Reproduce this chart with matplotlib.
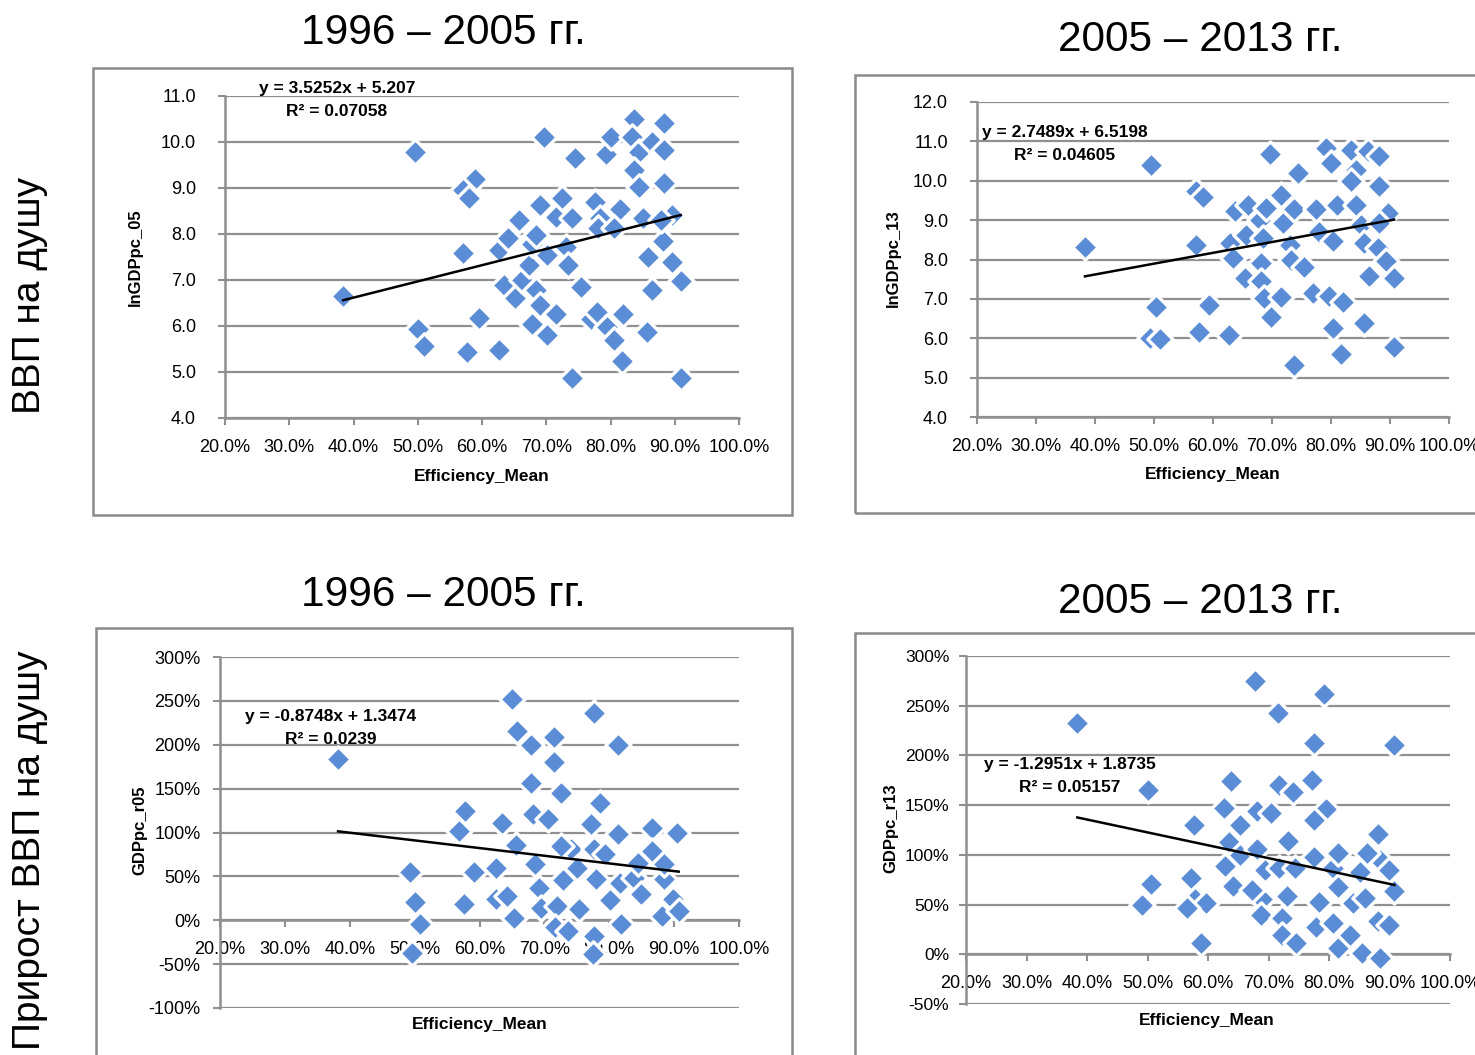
# -*- coding: utf-8 -*-
import numpy as np
import matplotlib
matplotlib.use("Agg")
import matplotlib.pyplot as plt
from matplotlib.patches import Rectangle
from matplotlib.ticker import FuncFormatter

W, H = 1475, 1055

# ---------------- data ----------------
# 1996-2005, lnGDPpc_05
eff_05 = [0.384, 0.495, 0.589, 0.570, 0.579, 0.570, 0.500, 0.510, 0.576, 0.595,
          0.627, 0.634, 0.626, 0.640, 0.658, 0.651, 0.662, 0.673, 0.678, 0.684,
          0.691, 0.684, 0.690, 0.678, 0.701, 0.715, 0.696, 0.701, 0.715, 0.724,
          0.731, 0.734, 0.740, 0.745, 0.754, 0.740, 0.770, 0.776, 0.784, 0.781,
          0.779, 0.795, 0.806, 0.818, 0.820, 0.793, 0.801, 0.815, 0.806, 0.836,
          0.834, 0.844, 0.836, 0.844, 0.851, 0.859, 0.865, 0.857, 0.865, 0.884,
          0.884, 0.884, 0.882, 0.895, 0.879, 0.895, 0.909, 0.909]
lngdp_05 = [6.65, 9.79, 9.19, 8.95, 8.79, 7.58, 5.94, 5.57, 5.44, 6.18,
            5.47, 6.89, 7.65, 7.92, 8.30, 6.60, 7.00, 7.32, 7.79, 7.97,
            8.64, 6.78, 6.45, 6.05, 5.80, 6.27, 10.11, 7.54, 8.37, 8.79,
            7.72, 7.32, 8.34, 9.66, 6.85, 4.86, 6.16, 8.70, 8.34, 8.12,
            6.31, 5.98, 5.69, 5.25, 6.27, 9.75, 10.11, 8.55, 8.12, 10.51,
            10.11, 9.79, 9.39, 9.03, 8.34, 7.50, 6.78, 5.87, 10.00, 10.41,
            9.82, 9.11, 7.84, 8.41, 8.30, 7.39, 6.97, 4.86]

# 2005-2013, lnGDPpc_13
eff_13 = [0.383, 0.495, 0.572, 0.583, 0.571, 0.503, 0.493, 0.510, 0.576, 0.594,
          0.627, 0.628, 0.634, 0.638, 0.659, 0.656, 0.654, 0.679, 0.682, 0.682,
          0.687, 0.699, 0.690, 0.685, 0.696, 0.716, 0.718, 0.716, 0.730, 0.738,
          0.732, 0.744, 0.755, 0.738, 0.769, 0.775, 0.780, 0.797, 0.803, 0.817,
          0.820, 0.792, 0.800, 0.803, 0.811, 0.834, 0.842, 0.834, 0.842, 0.851,
          0.856, 0.865, 0.856, 0.862, 0.882, 0.882, 0.879, 0.893, 0.896, 0.882,
          0.907, 0.907]
lngdp_13 = [8.33, 10.39, 9.73, 9.60, 8.37, 6.79, 6.01, 5.98, 6.15, 6.85,
            6.08, 8.42, 8.03, 9.24, 9.39, 8.63, 7.54, 9.01, 7.91, 7.46,
            7.01, 6.55, 9.31, 8.54, 10.67, 9.65, 8.93, 7.06, 8.37, 9.27,
            7.99, 10.20, 7.82, 5.32, 7.14, 9.27, 8.71, 7.08, 6.25, 5.61,
            6.93, 10.84, 10.45, 8.46, 9.38, 10.79, 10.28, 9.99, 9.38, 8.88,
            8.42, 7.57, 6.39, 10.75, 10.62, 9.86, 8.29, 7.95, 9.18, 8.93,
            7.52, 5.78]

# 1996-2005, GDPpc_r05
eff_r05 = [0.382, 0.493, 0.501, 0.508, 0.496, 0.578, 0.569, 0.576, 0.592, 0.625,
           0.634, 0.625, 0.643, 0.656, 0.653, 0.650, 0.658, 0.680, 0.715, 0.715,
           0.680, 0.725, 0.682, 0.706, 0.686, 0.692, 0.695, 0.719, 0.716, 0.736,
           0.728, 0.741, 0.725, 0.750, 0.753, 0.777, 0.785, 0.772, 0.777, 0.780,
           0.777, 0.775, 0.794, 0.801, 0.814, 0.814, 0.816, 0.818, 0.838, 0.844,
           0.849, 0.866, 0.866, 0.885, 0.882, 0.904, 0.899, 0.907, 0.885]
gdp_r05 = [1.834, 0.554, 0.213, -0.046, -0.368, 1.245, 1.017, 0.182, 0.554, 0.600,
           1.112, 0.239, 0.277, 0.858, 0.030, 2.525, 2.160, 2.000, 2.090, 1.800,
           1.568, 1.454, 1.215, 1.150, 0.645, 0.372, 0.144, 0.163, -0.076, -0.120,
           0.456, 0.809, 0.847, 0.600, 0.125, 2.365, 1.340, 1.093, 0.809, 0.467,
           -0.178, -0.387, 0.752, 0.228, 1.997, 0.987, 0.429, -0.046, 0.486, 0.657,
           0.296, 1.055, 0.790, 0.467, 0.050, 0.998, 0.239, 0.106, 0.638]

# 2005-2013, GDPpc_r13
eff_r13 = [0.384, 0.500, 0.506, 0.491, 0.577, 0.572, 0.578, 0.597, 0.566, 0.589,
           0.638, 0.627, 0.634, 0.628, 0.653, 0.653, 0.642, 0.677, 0.681, 0.704,
           0.681, 0.695, 0.690, 0.673, 0.687, 0.716, 0.718, 0.740, 0.732, 0.718,
           0.743, 0.730, 0.723, 0.723, 0.746, 0.792, 0.775, 0.772, 0.795, 0.776,
           0.776, 0.784, 0.779, 0.807, 0.815, 0.815, 0.807, 0.815, 0.835, 0.840,
           0.852, 0.855, 0.860, 0.881, 0.884, 0.899, 0.881, 0.899, 0.884, 0.908,
           0.908, 0.863]
gdp_r13 = [2.327, 1.657, 0.703, 0.495, 1.300, 0.770, 0.556, 0.512, 0.462, 0.110,
           1.741, 1.476, 1.132, 0.890, 1.300, 0.998, 0.690, 2.745, 1.440, 1.416,
           1.058, 0.847, 0.556, 0.646, 0.395, 2.430, 1.700, 1.634, 1.138, 0.864,
           0.864, 0.589, 0.362, 0.194, 0.110, 2.621, 2.129, 1.751, 1.466, 1.349,
           0.981, 0.529, 0.278, 0.864, 1.014, 0.680, 0.311, 0.060, 0.194, 0.512,
           0.830, 0.010, 0.562, 1.205, 0.947, 0.847, 0.335, 0.295, -0.033, 2.109,
           0.636, 1.014]

titles = ["1996 – 2005 гг.", "2005 – 2013 гг.", "1996 – 2005 гг.", "2005 – 2013 гг."]
ylabels = ["lnGDPpc_05", "lnGDPpc_13", "GDPpc_r05", "GDPpc_r13"]
row_labels = ["ВВП на душу", "Прирост ВВП на душу"]
slopes = [3.5252, 2.7489, -0.8748, -1.2951]
intercepts = [5.207, 6.5198, 1.3474, 1.8735]
eq_text = ["y = 3.5252x + 5.207", "y = 2.7489x + 6.5198",
           "y = -0.8748x + 1.3474", "y = -1.2951x + 1.8735"]
r2_text = ["R² = 0.07058", "R² = 0.04605", "R² = 0.0239", "R² = 0.05157"]
x_ticks = [0.2, 0.3, 0.4, 0.5, 0.6, 0.7, 0.8, 0.9, 1.0]
y_ticks = [np.arange(4, 11.01, 1.0), np.arange(4, 12.01, 1.0),
           np.arange(-1.0, 3.01, 0.5), np.arange(-0.5, 3.01, 0.5)]

# ---------------- layout (pixels) ----------------
# left, right, top, bottom of plotting area
boxes = [(225, 739, 96, 418), (977, 1449, 102, 417),
         (220, 739, 657, 1008), (966, 1450, 656, 1004)]
frames = [(93, 792, 68, 515), (855, 1490, 75, 513),
          (96, 792, 628, 1070), (855, 1490, 633, 1070)]
title_pos = [(443, 33), (1200, 40), (443, 595), (1200, 602)]
xlab_pos = [(482, 476), (1213, 474), (480, 1024), (1207, 1020)]
ylab_pos = [(135, 257), (893, 258), (140, 830), (891, 828)]
eq_pos = [(337, 89), (1065, 133), (331, 716), (1070, 764)]
ypads = [16, 16, 9, 7]
ysizes = [13, 13, 13, 12.5]

grid_c = "#8F8F8F"
blue = "#5B8DD6"
tick_font = ["Liberation Sans", "DejaVu Sans"]

plt.rcParams["font.family"] = ["Liberation Sans", "DejaVu Sans"]

fig = plt.figure(figsize=(W / 100, H / 100), dpi=100)


def fx(px):
    return px / W


def fy(py):
    return 1 - py / H


data = [(eff_05, lngdp_05), (eff_13, lngdp_13), (eff_r05, gdp_r05), (eff_r13, gdp_r13)]

for i in range(4):
    fl, fr, ft, fb = frames[i]
    fig.patches.append(Rectangle((fx(fl), fy(fb)), fx(fr - fl), (fb - ft) / H,
                                 transform=fig.transFigure, fill=False,
                                 edgecolor="#8A8A8A", linewidth=1.8, zorder=0))

    l, r, t, b = boxes[i]
    ax = fig.add_axes([fx(l), fy(b), fx(r - l), (b - t) / H])
    ax.set_xlim(0.2, 1.0)
    yt = y_ticks[i]
    ax.set_ylim(yt[0], yt[-1])
    ax.set_xticks(x_ticks)
    ax.set_yticks(yt)
    ax.xaxis.set_major_formatter(FuncFormatter(lambda v, p: "%.1f%%" % (v * 100)))
    if i < 2:
        ax.yaxis.set_major_formatter(FuncFormatter(lambda v, p: "%.1f" % v))
    else:
        ax.yaxis.set_major_formatter(FuncFormatter(lambda v, p: "%d%%" % round(v * 100)))
        ax.spines["bottom"].set_position(("data", 0))

    for s in ["top", "right"]:
        ax.spines[s].set_visible(False)
    for s in ["left", "bottom"]:
        ax.spines[s].set_color(grid_c)
        ax.spines[s].set_linewidth(1.8)
    ax.tick_params(axis="both", colors=grid_c, length=5, width=1.5, direction="out",
                   labelcolor="black", labelsize=13)
    ax.tick_params(axis="x", pad=10)
    ax.tick_params(axis="y", pad=ypads[i], labelsize=ysizes[i])
    for lab in ax.get_xticklabels() + ax.get_yticklabels():
        lab.set_family(tick_font)
    ax.grid(axis="y", color=grid_c, linewidth=1.6)
    ax.set_axisbelow(True)

    xs, ys = data[i]
    ax.scatter(xs, ys, marker="D", s=165, c=blue, edgecolors="white",
               linewidths=2.4, zorder=3, clip_on=False)
    x0, x1 = min(xs), max(xs)
    ax.plot([x0, x1], [slopes[i] * x0 + intercepts[i], slopes[i] * x1 + intercepts[i]],
            color="black", linewidth=1.8, zorder=4)

    ex, ey = eq_pos[i]
    fig.text(fx(ex), fy(ey), eq_text[i], ha="center", va="center", fontsize=12.5,
             fontweight="bold", family=tick_font, zorder=5)
    fig.text(fx(ex), fy(ey + 23), r2_text[i], ha="center", va="center", fontsize=12.5,
             fontweight="bold", family=tick_font, zorder=5)

    tx, ty = title_pos[i]
    fig.text(fx(tx), fy(ty), titles[i], ha="center", va="center", fontsize=30.5)
    lx, ly = xlab_pos[i]
    fig.text(fx(lx), fy(ly), "Efficiency_Mean", ha="center", va="center",
             fontsize=12.5, fontweight="bold", family=tick_font)
    yx, yy = ylab_pos[i]
    fig.text(fx(yx), fy(yy), ylabels[i], ha="center", va="center", rotation=90,
             fontsize=12, fontweight="bold", family=tick_font)

fig.text(fx(30), fy(295), row_labels[0], rotation=90, ha="center", va="center", fontsize=28)
fig.text(fx(30), fy(850), row_labels[1], rotation=90, ha="center", va="center", fontsize=28)

fig.savefig("out.png", dpi=100)
